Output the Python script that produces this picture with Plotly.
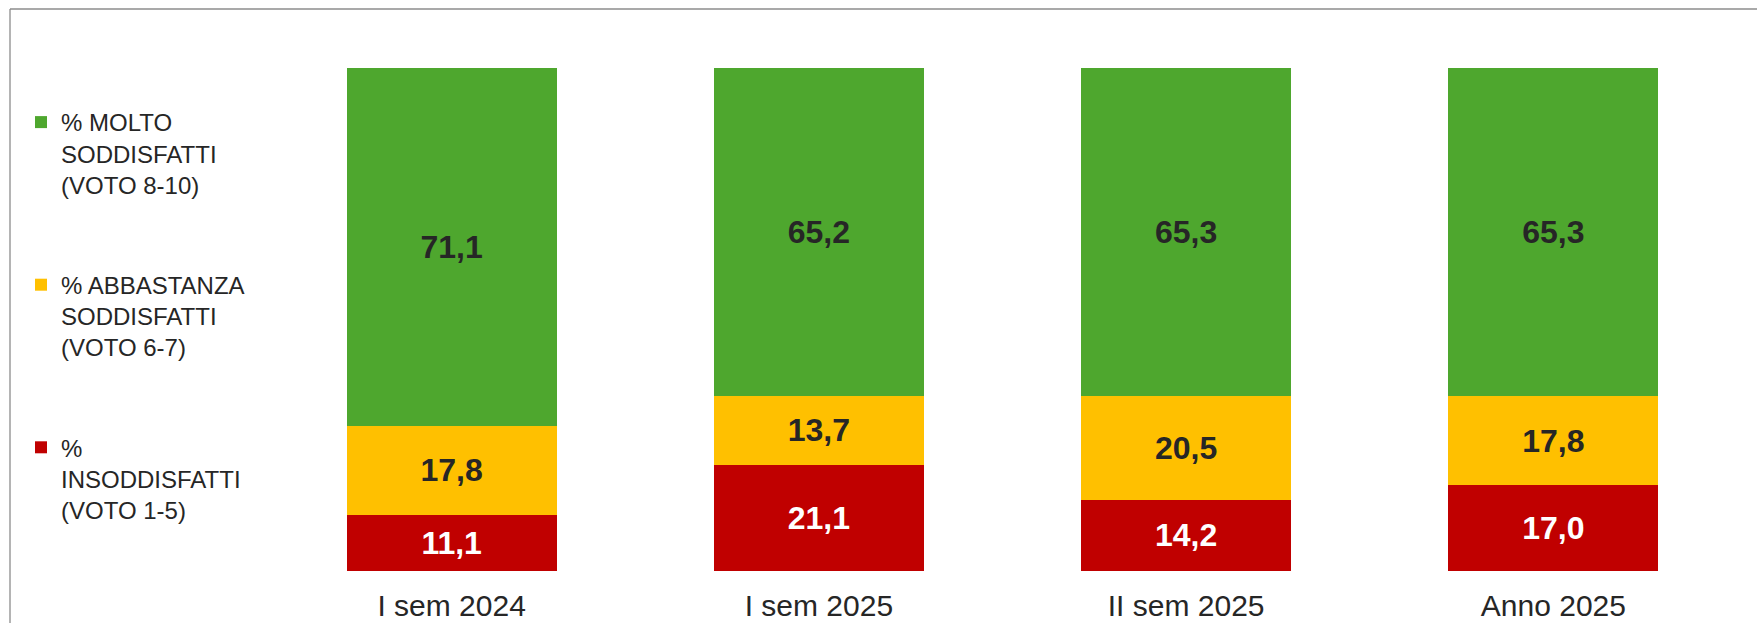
import plotly.graph_objects as go

categories = ["I sem 2024", "I sem 2025", "II sem 2025", "Anno 2025"]
insoddisfatti = [11.1, 21.1, 14.2, 17.0]
abbastanza = [17.8, 13.7, 20.5, 17.8]
molto = [71.1, 65.2, 65.3, 65.3]

names = [
    "%<br>INSODDISFATTI<br>(VOTO 1-5)",
    "% ABBASTANZA<br>SODDISFATTI<br>(VOTO 6-7)",
    "% MOLTO<br>SODDISFATTI<br>(VOTO 8-10)",
]
series = [insoddisfatti, abbastanza, molto]
colors = ["#C00000", "#FFC000", "#4EA72E"]
label_colors = ["#FFFFFF", "#262626", "#262626"]
ranks = [3, 2, 1]

W, H = 1757, 623
ML, MR, MT, MB = 268, 20, 68, 52

fig = go.Figure()
for i, (nm, vals, c, lc, rk) in enumerate(zip(names, series, colors, label_colors, ranks)):
    fig.add_trace(go.Bar(
        x=categories, y=vals, name=nm, marker=dict(color=c, line=dict(width=0)),
        legendgroup=f"g{i}", legendrank=rk,
        texttemplate="%{y:.1f}", textposition="inside", insidetextanchor="middle",
        textangle=0, constraintext="none",
        insidetextfont=dict(family="Liberation Sans, Arial, sans-serif", size=32,
                            color=lc, weight="bold"),
        hoverinfo="skip",
    ))

pw = W - ML - MR
ph = H - MT - MB
left_px, top_px = 10, 9
xl = (left_px - ML) / pw
yt = (H - MB - top_px) / ph

fig.update_layout(
    width=W, height=H,
    barmode="stack", bargap=0.428,
    separators=",.",
    margin=dict(l=ML, r=MR, t=MT, b=MB, autoexpand=False),
    plot_bgcolor="white", paper_bgcolor="white",
    font=dict(family="Liberation Sans, Arial, sans-serif", color="#262626"),
    showlegend=True,
    legend=dict(
        xref="container", yref="container", x=21 / W, y=1 - 100 / H,
        xanchor="left", yanchor="top",
        traceorder="grouped", tracegroupgap=66, valign="top",
        font=dict(size=24, color="#262626"), bgcolor="rgba(0,0,0,0)",
        itemclick=False, itemdoubleclick=False, maxheight=600,
    ),
    xaxis=dict(showgrid=False, showline=False, zeroline=False, ticks="",
               tickfont=dict(size=30, color="#262626"), ticklabelstandoff=14,
               automargin=False),
    yaxis=dict(range=[0, 100], visible=False, showgrid=False, zeroline=False,
               automargin=False),
    shapes=[
        dict(type="line", xref="paper", yref="paper", x0=xl, x1=xl, y0=yt, y1=-0.3,
             line=dict(color="#8C8C8C", width=1.3)),
        dict(type="line", xref="paper", yref="paper", x0=xl, x1=1.2, y0=yt, y1=yt,
             line=dict(color="#8C8C8C", width=1.3)),
    ],
)

fig.write_html("out.html", config={"displayModeBar": False},
               post_script="document.body.style.margin='0';document.body.style.overflow='hidden';")
